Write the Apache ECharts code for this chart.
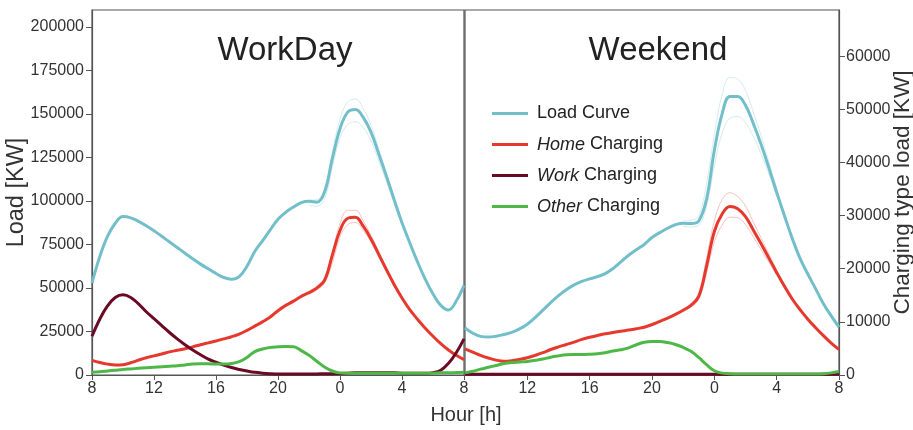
<!DOCTYPE html>
<html>
<head>
<meta charset="utf-8">
<script src="https://cdn.jsdelivr.net/npm/echarts@6/dist/echarts.min.js"></script>
<style>
  html, body { margin: 0; padding: 0; background: #fff; }
  #chart { width: 913px; height: 430px; }
</style>
</head>
<body>
<div id="chart"></div>
<script>
// Hours after 08:00, every half hour (0 = 8h, 24 = 8h next day)
const hours = [0,0.5,1,1.5,2,2.5,3,3.5,4,4.5,5,5.5,6,6.5,7,7.5,8,8.5,9,9.5,10,10.5,11,11.5,12,12.5,13,13.5,14,14.5,15,15.5,16,16.5,17,17.5,18,18.5,19,19.5,20,20.5,21,21.5,22,22.5,23,23.5,24];
const hourTicks = [0, 4, 8, 12, 16, 20, 24];
const loadTicks = [0, 25000, 50000, 75000, 100000, 125000, 150000, 175000, 200000];
const chargeTicks = [0, 10000, 20000, 30000, 40000, 50000, 60000];

// WorkDay (load in left-axis units, charging types in right-axis units)
const workdayLoad  = [52800,68000,79600,87200,91000,90300,88300,85800,82900,79700,76400,73200,70000,66800,63700,61000,58300,56000,55000,56500,62500,71000,77000,83400,89500,93500,96500,99000,99800,99300,105000,124000,141500,151000,152500,148000,139500,127000,114000,100500,87500,76000,65000,55000,46500,40000,37300,42500,51500];
const workdayHome  = [2750,2350,2050,1900,1950,2300,2800,3250,3600,3950,4350,4650,4950,5300,5700,6050,6400,6800,7200,7700,8400,9200,10000,10900,12100,13100,13900,14800,15500,16350,17800,22500,27200,29500,29700,28000,25600,22700,19800,17000,14500,12300,10500,8800,7300,5900,4700,3700,2900];
const workdayWork  = [7300,10500,13000,14600,15100,14600,13400,11900,10600,9300,8000,6800,5700,4700,3800,3000,2400,1850,1400,1050,750,500,350,250,200,200,200,200,200,200,250,250,300,350,400,400,400,400,400,400,350,350,350,350,450,900,2200,4200,6800];
const workdayOther = [500,600,750,900,1050,1150,1250,1350,1450,1550,1650,1750,1900,2050,2100,2100,2050,2050,2150,2500,3300,4400,4900,5200,5300,5350,5300,4600,3700,2600,1500,750,400,350,350,350,350,350,350,350,350,350,350,350,350,400,400,450,500];

// Weekend
const weekendLoad  = [27000,24000,22200,21800,22300,23300,24500,26500,29200,33000,37300,41600,45600,49000,51800,53800,55200,56500,58200,61200,65000,68800,72000,75000,79000,81800,84300,86300,87200,87000,88500,101000,129000,150000,160000,160000,155000,144500,132500,119000,105000,91500,78500,67000,58000,49500,41000,34000,27500];
const weekendHome  = [4900,4300,3700,3200,2800,2600,2700,2950,3250,3700,4200,4800,5300,5750,6200,6700,7100,7450,7750,8000,8250,8450,8700,9000,9500,10100,10700,11400,12200,13100,14800,20500,27000,30300,31700,31300,29800,27300,24700,22000,19300,16700,14300,12300,10500,8900,7400,6000,4800];
const weekendWork  = [150,150,150,150,150,150,150,150,150,150,150,150,150,150,150,150,150,150,150,150,150,150,150,150,150,150,150,150,150,150,150,150,150,150,150,150,150,150,150,150,150,150,150,150,150,150,150,150,150];
const weekendOther = [400,700,1100,1450,1800,2150,2350,2450,2550,2750,3000,3350,3600,3800,3850,3850,3900,4000,4200,4500,4750,5100,5700,6150,6300,6300,6100,5750,5200,4450,3300,1950,800,350,250,200,200,200,200,200,200,200,200,200,200,200,250,400,650];

// Individual-day runs around the evening peak (thin, faint)
const peakHours = [14,14.5,15,15.5,16,16.5,17,17.5,18,18.5,19,19.5,20];
const workdayLoadHigh = [100500,100800,107000,128000,147000,157000,158500,153000,143500,130000,116000,101500,88000];
const workdayLoadLow  = [97500,97000,101000,119000,136000,144000,145500,142000,134500,123000,111000,98500,86500];
const weekendLoadHigh = [88500,89000,91500,110000,138000,161000,171000,170000,163500,151000,137500,122500,107000];
const weekendLoadLow  = [85500,85000,86000,97000,120000,139000,147500,148500,145000,137000,127000,115500,102500];
const workdayHomeHigh = [15800,16700,18300,23000,28500,31000,31000,29000,26300,23200,20200,17300,14700];
const workdayHomeLow  = [15200,16000,17300,21000,26000,28300,28700,27200,25000,22200,19400,16700,14300];
const weekendHomeHigh = [12400,13400,15500,22000,29000,33000,34300,33600,31800,28800,25800,22800,19800];
const weekendHomeLow  = [12000,12800,14200,19200,25000,28200,29700,29600,28300,26000,23600,21200,18800];

const names = ['Load Curve', 'Home Charging', 'Work Charging', 'Other Charging'];
const colors = ['#72bfca', '#e5392e', '#6b0a24', '#4db848'];

const FONT = 'Liberation Sans, Arial, sans-serif';
const LOAD_MAX = 209700;
const CHARGE_MAX = 68700;

function pairs(xs, arr) { return xs.map((h, i) => [h, arr[i]]); }

function xAxisFor(gridIndex, showMin) {
  return {
    type: 'value', gridIndex, min: 0, max: 24, interval: 4,
    axisLine: { show: true, onZero: false, lineStyle: { color: '#555', width: 1.2 } },
    axisTick: { show: true, length: 5, lineStyle: { color: '#555' } },
    axisLabel: { margin: 6, fontSize: 16, color: '#333', fontFamily: FONT, showMinLabel: showMin,
      formatter: v => String((v + 8) % 24) },
    splitLine: { show: false }
  };
}

function yAxisFor(gridIndex, position, max, ticks, visible, name, nameGap, nameSize, labelMargin) {
  return {
    type: 'value', gridIndex, position, min: 0, max,
    name: visible ? name : '', nameLocation: 'middle', nameGap, nameRotate: 90, nameMoveOverlap: false,
    nameTextStyle: { fontSize: nameSize, color: '#333', fontFamily: FONT },
    axisLine: { show: visible, lineStyle: { color: '#555', width: 1.2 } },
    axisTick: { show: visible, length: 6, customValues: ticks, lineStyle: { color: '#555' } },
    axisLabel: { show: visible, customValues: ticks, margin: labelMargin, fontSize: 16, color: '#333', fontFamily: FONT,
      formatter: v => String(v) },
    splitLine: { show: false }
  };
}

function lineSeries(name, i, xIdx, yIdx, data) {
  return {
    name, type: 'line', xAxisIndex: xIdx, yAxisIndex: yIdx,
    data: pairs(hours, data), smooth: 0.4, symbol: 'none',
    lineStyle: { width: 3, color: colors[i] }, itemStyle: { color: colors[i] },
    z: 3 + i
  };
}

function faintSeries(i, xIdx, yIdx, data) {
  return {
    name: names[i] + ' (day)', type: 'line', xAxisIndex: xIdx, yAxisIndex: yIdx,
    data: pairs(peakHours, data), smooth: 0.4, symbol: 'none', silent: true,
    lineStyle: { width: 1, color: colors[i], opacity: 0.3 }, z: 2
  };
}

const gridBase = { top: 10, height: 365, show: true, borderColor: '#555', borderWidth: 1.2,
  containLabel: false, outerBoundsMode: 'none' };

const chart = echarts.init(document.getElementById('chart'), null, { renderer: 'canvas' });
chart.setOption({
  animation: false,
  backgroundColor: '#fff',
  grid: [
    Object.assign({ left: 92, width: 372 }, gridBase),
    Object.assign({ left: 465, width: 374 }, gridBase)
  ],
  xAxis: [xAxisFor(0, true), xAxisFor(1, false)],
  yAxis: [
    yAxisFor(0, 'left', LOAD_MAX, loadTicks, true, 'Load [KW]', 63, 23.5, 8),
    yAxisFor(0, 'right', CHARGE_MAX, chargeTicks, false, '', 0, 23.5, 8),
    yAxisFor(1, 'left', LOAD_MAX, loadTicks, false, '', 0, 23.5, 8),
    yAxisFor(1, 'right', CHARGE_MAX, chargeTicks, true, 'Charging type load [KW]', 52, 22.5, 7)
  ],
  legend: {
    data: names, orient: 'vertical', left: 487, top: 99,
    icon: 'rect', itemWidth: 36, itemHeight: 3, itemGap: 12,
    textStyle: { fontSize: 18, color: '#222', fontFamily: FONT, padding: [0, 0, 0, 4], lineHeight: 19,
      rich: { i: { fontSize: 18, fontStyle: 'italic', color: '#222', fontFamily: FONT } } },
    formatter: n => n === 'Load Curve' ? n : '{i|' + n.split(' ')[0] + '} ' + n.split(' ')[1]
  },
  graphic: [
    { type: 'text', x: 285, y: 51, style: { text: 'WorkDay', fontSize: 33, fontFamily: FONT, fill: '#222', align: 'center', verticalAlign: 'middle' } },
    { type: 'text', x: 658, y: 51, style: { text: 'Weekend', fontSize: 33, fontFamily: FONT, fill: '#222', align: 'center', verticalAlign: 'middle' } },
    { type: 'text', x: 466, y: 415, style: { text: 'Hour [h]', fontSize: 20, fontFamily: FONT, fill: '#333', align: 'center', verticalAlign: 'middle' } }
  ],
  series: [
    faintSeries(0, 0, 0, workdayLoadHigh), faintSeries(0, 0, 0, workdayLoadLow),
    faintSeries(1, 0, 1, workdayHomeHigh), faintSeries(1, 0, 1, workdayHomeLow),
    faintSeries(0, 1, 2, weekendLoadHigh), faintSeries(0, 1, 2, weekendLoadLow),
    faintSeries(1, 1, 3, weekendHomeHigh), faintSeries(1, 1, 3, weekendHomeLow),
    lineSeries(names[0], 0, 0, 0, workdayLoad),
    lineSeries(names[1], 1, 0, 1, workdayHome),
    lineSeries(names[2], 2, 0, 1, workdayWork),
    lineSeries(names[3], 3, 0, 1, workdayOther),
    lineSeries(names[0], 0, 1, 2, weekendLoad),
    lineSeries(names[1], 1, 1, 3, weekendHome),
    lineSeries(names[2], 2, 1, 3, weekendWork),
    lineSeries(names[3], 3, 1, 3, weekendOther)
  ]
});
</script>
</body>
</html>
